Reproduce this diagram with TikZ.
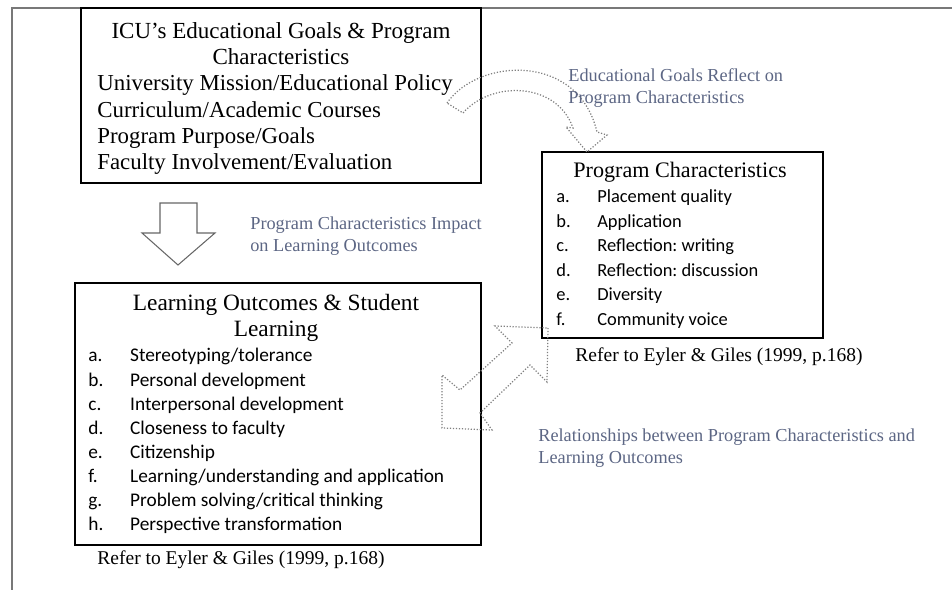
\documentclass[tikz,border=0pt]{standalone}
\usepackage{fontspec}
\setmainfont{Liberation Serif}
\newfontfamily\listfont{Carlito}
\usetikzlibrary{fit}

\definecolor{notecolor}{RGB}{92,102,132}
\definecolor{rulegray}{RGB}{120,120,120}

\tikzset{
  box/.style={draw, line width=1pt, inner sep=0pt},
  heading/.style={align=center, inner sep=0pt, anchor=base},
  items/.style={align=left, inner sep=0pt, anchor=base west},
  note/.style={text=notecolor, font=\fontsize{10.4}{13}\selectfont, align=left, inner sep=0pt, anchor=base west},
  reftext/.style={font=\fontsize{11.1}{13}\selectfont, inner sep=0pt, anchor=base},
  blockarrow/.style={draw=gray!80!black, line width=0.6pt},
  dotarrow/.style={draw=gray, line width=0.7pt, densely dotted}
}

\begin{document}
\begin{tikzpicture}[x=0.2mm, y=-0.2mm]
    \useasboundingbox (0,0) rectangle (952,590);

    % Page frame
    \draw[rulegray, line width=0.9pt] (12,590) -- (12,8) -- (952,8);

    % Boxes
    \node[box, fit={(81,8) (481,183)}] (goals) {};
    \node[box, fit={(542,152) (823,338)}] (progchar) {};
    \node[box, fit={(75,283) (481,545)}] (outcomes) {};

    % Goals box text (anchored on the last line)
    \node[heading, font=\fontsize{13.1}{15.2}\selectfont] (goalstitle) at (281,65)
        {ICU’s Educational Goals \& Program\\Characteristics};
    \node[items, font=\fontsize{13}{15}\selectfont] (goalsitems) at (97,170)
        {University Mission/Educational Policy\\
         Curriculum/Academic Courses\\
         Program Purpose/Goals\\
         Faculty Involvement/Evaluation};

    % Program characteristics box text
    \node[heading, font=\fontsize{12.6}{15}\selectfont] (progtitle) at (680,178)
        {Program Characteristics};
    \node[anchor=base west, inner sep=0pt, font=\listfont\fontsize{10.5}{13.9}\selectfont] (proglist) at (556,203)
        {\begin{tabular}[t]{@{}p{23.3pt}@{}l@{}}
           a. & Placement quality\\
           b. & Application\\
           c. & Reflection:\ writing\\
           d. & Reflection:\ discussion\\
           e. & Diversity\\
           f. & Community voice
         \end{tabular}};
    \node[reftext] (progref) at (719,362) {Refer to Eyler \& Giles (1999, p.168)};

    % Learning outcomes box text
    \node[heading, font=\fontsize{13.3}{15.3}\selectfont] (outtitle) at (276,337)
        {Learning Outcomes \& Student\\Learning};
    \node[anchor=base west, inner sep=0pt, font=\listfont\fontsize{11}{13.7}\selectfont] (outlist) at (88,362)
        {\begin{tabular}[t]{@{}p{23.8pt}@{}l@{}}
           a. & Stereotyping/tolerance\\
           b. & Personal development\\
           c. & Interpersonal development\\
           d. & Closeness to faculty\\
           e. & Citizenship\\
           f. & Learning/understanding and application\\
           g. & Problem solving/critical thinking\\
           h. & Perspective transformation
         \end{tabular}};
    \node[reftext] (outref) at (241,565) {Refer to Eyler \& Giles (1999, p.168)};

    % Block arrow from goals down to outcomes
    \draw[blockarrow] (160,203) -- (160,233) -- (142,233) -- (178,265)
        -- (215,233) -- (197,233) -- (197,203) -- cycle;
    \node[note] (impact) at (250,252) {Program Characteristics Impact\\on Learning Outcomes};

    % Curved arrow from goals over to program characteristics
    \draw[dotarrow] (447,103) .. controls (478,58) and (578,52) .. (597,132)
        -- (607,135) -- (587,152) -- (566,127) -- (573,128)
        .. controls (557,82) and (492,80) .. (463,113) -- cycle;
    \node[note] (reflect) at (568,104) {Educational Goals Reflect on\\Program Characteristics};

    % Two-way arrow between outcomes and program characteristics
    \draw[dotarrow] (548,328) -- (547,382) -- (530,365) -- (480,413) -- (492,430)
        -- (442,428) -- (442,375) -- (460,390) -- (512,343) -- (495,326) -- cycle;
    \node[note] (relation) at (538,464)
        {Relationships between Program Characteristics and\\Learning Outcomes};
\end{tikzpicture}
\end{document}
